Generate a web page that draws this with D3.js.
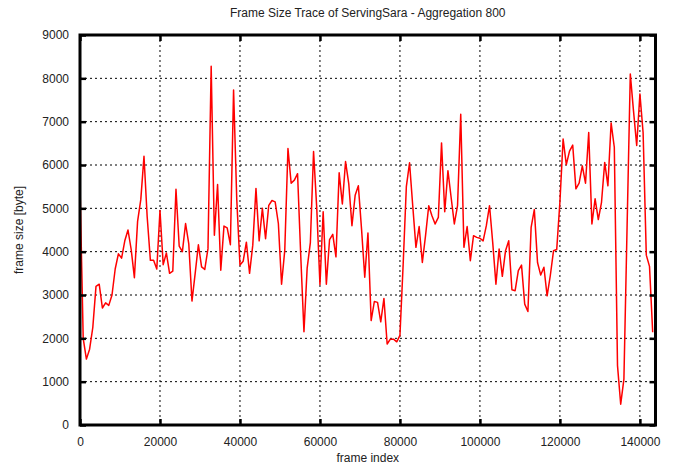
<!DOCTYPE html>
<html>
<head>
<meta charset="utf-8">
<script src="https://cdn.jsdelivr.net/npm/d3@7"></script>
<style>
  body { margin: 0; background: #fff; }
  text { font-family: "Liberation Sans", Arial, sans-serif; fill: #222; }
</style>
</head>
<body>
<div id="chart"></div>
<script>
// frame sizes, one value per aggregation window of 800 frames
const aggregation = 800;
const frameSizes = [
  5550, 2000, 1520, 1750, 2250, 3200, 3250, 2700, 2820, 2760,
  3000, 3600, 3950, 3850, 4250, 4500, 4050, 3400, 4700, 5200,
  6200, 4800, 3800, 3800, 3600, 4950, 3700, 3970, 3500, 3550,
  5440, 4130, 4000, 4650, 4180, 2860, 3500, 4160, 3650, 3590,
  4070, 8280, 4380, 5550, 3570, 4590, 4550, 4160, 7730, 5200,
  3690, 3780, 4220, 3500, 4150, 5460, 4250, 5000, 4300, 5070,
  5180, 5150, 4650, 3250, 4030, 6380, 5580, 5650, 5800, 3900,
  2150, 3620, 4210, 6310, 5000, 3240, 4920, 3250, 4280, 4400,
  3880, 5820, 5100, 6080, 5570, 4600, 5300, 5520, 4520, 3410,
  4430, 2410, 2850, 2830, 2380, 2920, 1870, 1980, 1980, 1920,
  2070, 3700, 5500, 6050, 5060, 4100, 4580, 3750, 4370, 5060,
  4830, 4640, 4790, 6510, 4920, 5870, 5250, 4640, 5060, 7170,
  4100, 4580, 3790, 4370, 4330, 4310, 4250, 4600, 5060, 4210,
  3250, 4060, 3430, 4020, 4250, 3120, 3100, 3560, 3690, 2790,
  2620, 4560, 4970, 3750, 3460, 3640, 2980, 3450, 4020, 4050,
  5150, 6600, 6010, 6320, 6460, 5450, 5580, 5980, 5580, 6750,
  4640, 5220, 4740, 5140, 6060, 5520, 6970, 6410, 1370, 480,
  1060, 4600, 8100, 7250, 6450, 7640, 6750, 3920, 3660, 2140
];
const xTicks = [0, 20000, 40000, 60000, 80000, 100000, 120000, 140000];
const yTicks = [0, 1000, 2000, 3000, 4000, 5000, 6000, 7000, 8000, 9000];
const xMax = 143900;

const width = 685, height = 466;
const margin = {top: 35, right: 29.5, bottom: 41, left: 80};
const w = width - margin.left - margin.right;
const h = height - margin.top - margin.bottom;

const svg = d3.select("#chart").append("svg")
    .attr("width", width)
    .attr("height", height);

const g = svg.append("g")
    .attr("transform", `translate(${margin.left},${margin.top})`);

const x = d3.scaleLinear().domain([0, xMax]).range([0, w]);
const y = d3.scaleLinear().domain([0, 9000]).range([h, 0]);

// grid
g.append("g").selectAll("line")
  .data(yTicks.slice(1, -1))
  .enter().append("line")
    .attr("x1", 0).attr("x2", w)
    .attr("y1", d => y(d)).attr("y2", d => y(d))
    .attr("stroke", "#000").attr("stroke-width", 1)
    .attr("stroke-dasharray", "2,3");
g.append("g").selectAll("line")
  .data(xTicks.slice(1))
  .enter().append("line")
    .attr("x1", d => x(d)).attr("x2", d => x(d))
    .attr("y1", 0).attr("y2", h)
    .attr("stroke", "#000").attr("stroke-width", 1)
    .attr("stroke-dasharray", "2,3");

// data line
const line = d3.line()
    .x((d, i) => x(i * aggregation))
    .y(d => y(d));
g.append("path")
  .datum(frameSizes)
  .attr("fill", "none")
  .attr("stroke", "#ff0000")
  .attr("stroke-width", 1.5)
  .attr("stroke-linejoin", "round")
  .attr("d", line);

// axes with inward ticks (mirrored on top and right)
function styleAxis(sel) {
  sel.select(".domain").remove();
  sel.selectAll(".tick line").attr("stroke", "#000").attr("stroke-width", 2.5);
  sel.selectAll("text").attr("font-size", 12).attr("fill", "#222")
     .style("font-family", "'Liberation Sans', Arial, sans-serif");
}
g.append("g")
  .attr("transform", `translate(0,${h})`)
  .call(d3.axisBottom(x).tickValues(xTicks).tickSize(-6).tickPadding(12).tickFormat(d3.format("d")))
  .call(styleAxis);
g.append("g")
  .call(d3.axisTop(x).tickValues(xTicks).tickSize(-6).tickFormat(""))
  .call(styleAxis);
g.append("g")
  .call(d3.axisLeft(y).tickValues(yTicks).tickSize(-6).tickPadding(11).tickFormat(d3.format("d")))
  .call(styleAxis);
g.append("g")
  .attr("transform", `translate(${w},0)`)
  .call(d3.axisRight(y).tickValues(yTicks).tickSize(-6).tickFormat(""))
  .call(styleAxis);

// frame
g.append("rect")
  .attr("width", w).attr("height", h)
  .attr("fill", "none").attr("stroke", "#000").attr("stroke-width", 3);

// labels
svg.append("text")
  .attr("x", margin.left + w / 2).attr("y", 17)
  .attr("text-anchor", "middle").attr("font-size", 12)
  .text("Frame Size Trace of ServingSara - Aggregation 800");
svg.append("text")
  .attr("x", margin.left + w / 2).attr("y", 462)
  .attr("text-anchor", "middle").attr("font-size", 12)
  .text("frame index");
svg.append("text")
  .attr("transform", `translate(23,${margin.top + h / 2}) rotate(-90)`)
  .attr("text-anchor", "middle").attr("font-size", 12)
  .text("frame size [byte]");
</script>
</body>
</html>
